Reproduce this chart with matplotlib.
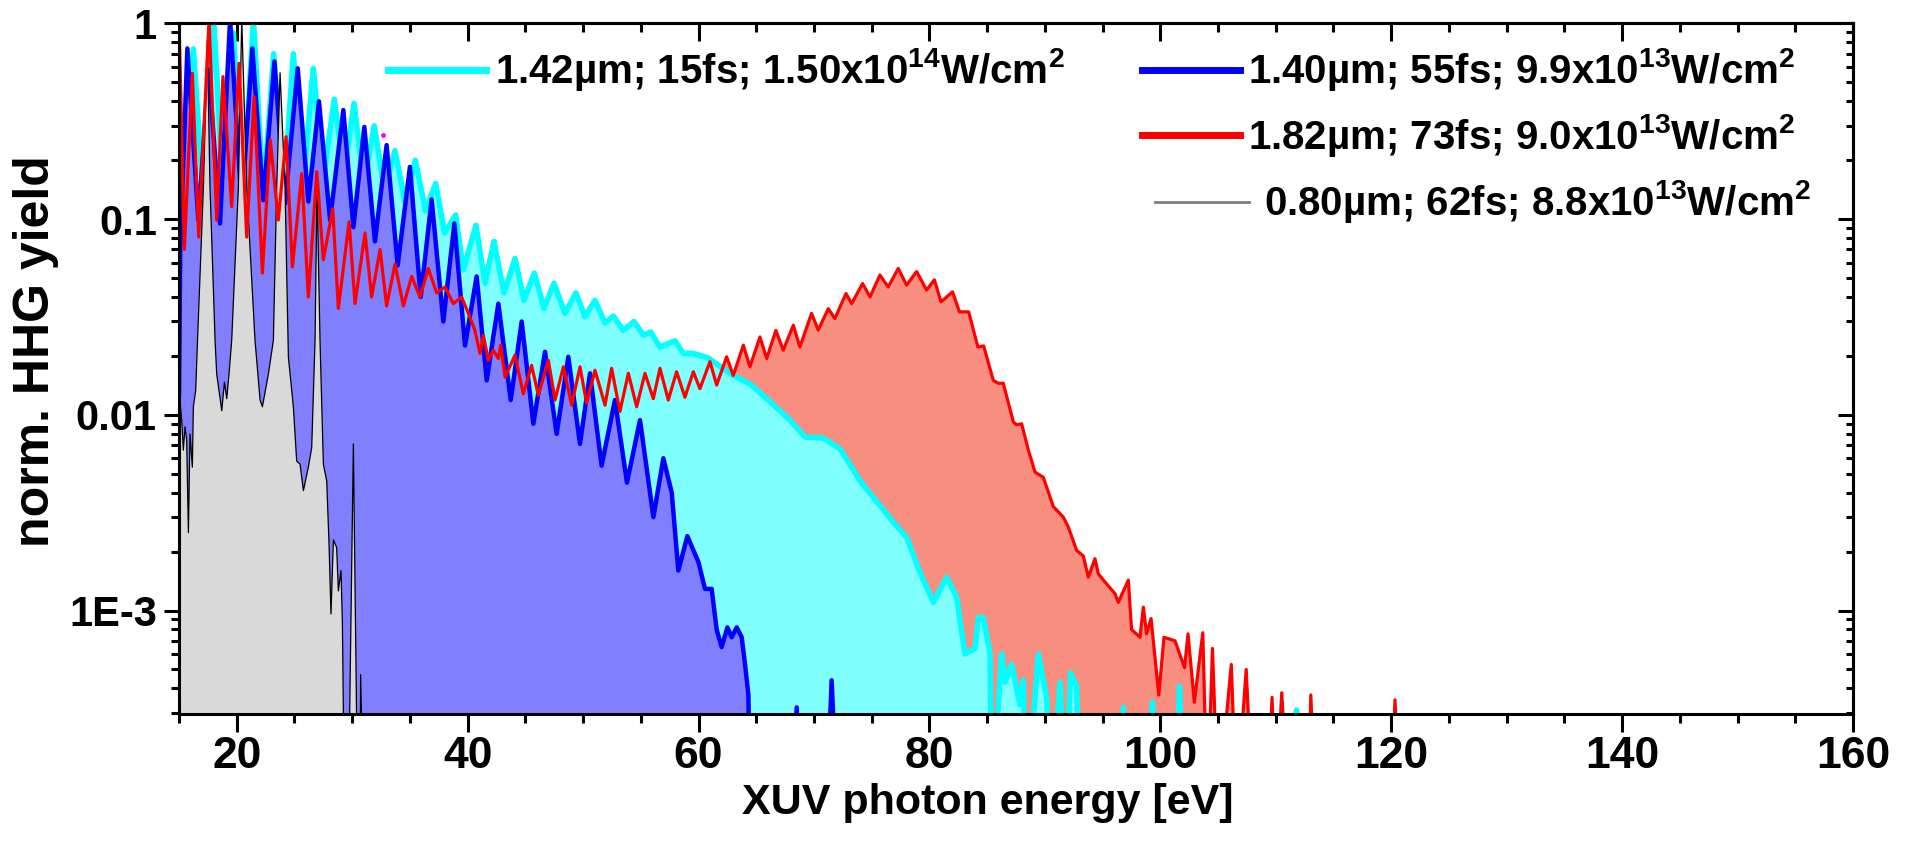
import matplotlib
matplotlib.use("Agg")
import matplotlib.pyplot as plt
from matplotlib.ticker import MultipleLocator, LogLocator, NullFormatter

plt.rcParams['font.family'] = ['Liberation Sans', 'DejaVu Sans']
plt.rcParams['font.weight'] = 'bold'
plt.rcParams['mathtext.fontset'] = 'custom'
plt.rcParams['mathtext.rm'] = 'Liberation Sans:bold'
plt.rcParams['mathtext.default'] = 'rm'

# ---- data (photon energy in eV, normalised yield) ----
# 1.42 um, 15 fs
cyan_ev = [15.0, 16.24, 17.1, 18.0, 18.85, 19.7, 20.55, 21.44, 22.3, 23.2, 24.1, 24.9, 25.75,
           26.63, 27.5, 28.45, 29.3, 30.16, 31.0, 31.91, 32.8, 33.7, 34.6, 35.47, 36.35, 37.23,
           38.0, 38.96, 39.62, 40.72, 41.5, 42.28, 43.15, 44.1, 44.88, 45.78, 46.61, 47.48, 48.43,
           49.38, 50.16, 51.03, 51.9, 52.62, 53.48, 54.41, 55.22, 55.85, 56.66, 57.96, 58.68, 59.55,
           60.85, 61.28, 63.01, 64.46, 65.9, 67.92, 69.22, 70.81, 72.26, 73.99, 75.72, 76.87, 78.03,
           79.18, 80.34, 81.49, 82.36, 83.08, 83.95, 84.24, 84.67, 85.25, 85.39, 86.26, 86.55, 87.12,
           87.84, 88.13, 88.42, 89.43, 90.15, 90.59, 91.31, 91.74, 92.23, 92.75, 93.04, 96.5, 96.8,
           97.1, 99.0, 99.31, 99.7, 101.3, 101.66, 102.0, 111.6, 111.8, 112.0, 160.0]
cyan_y = [0.135, 0.74, 0.13, 1.05, 0.13, 0.9, 0.13, 1.05, 0.13, 0.7, 0.14, 0.7, 0.15,
          0.59, 0.16, 0.41, 0.17, 0.39, 0.15, 0.30, 0.14, 0.224, 0.12, 0.20, 0.11, 0.152,
          0.085, 0.105, 0.055, 0.093, 0.047, 0.077, 0.042, 0.063, 0.0385, 0.053, 0.035, 0.047, 0.033,
          0.042, 0.0317, 0.0385, 0.0295, 0.032, 0.027, 0.030, 0.0255, 0.0265, 0.0222, 0.0239, 0.0206, 0.0206,
          0.0195, 0.0187, 0.0159, 0.0144, 0.0121, 0.0094, 0.0077, 0.0076, 0.0067, 0.0046, 0.00344, 0.00283, 0.00237,
          0.00157, 0.0011, 0.00148, 0.00117, 0.0006, 0.00064, 0.00092, 0.00092, 0.0006, 0.0001, 0.0006, 0.00043, 0.00053,
          0.00033, 0.00044, 0.0001, 0.0006, 0.00036, 0.0001, 0.00043, 0.0001, 0.00048, 0.00041, 0.0001, 0.0001, 0.00032,
          0.0001, 0.0001, 0.00034, 0.0001, 0.0001, 0.00041, 0.0001, 0.0001, 0.00031, 0.0001, 0.0001]

# 1.40 um, 55 fs
blue_ev = [15.0, 15.1, 15.72, 16.67, 17.57, 18.55, 19.42, 20.43, 21.35, 22.3, 23.26, 24.18, 25.28,
           26.2, 27.12, 28.08, 29.23, 30.1, 31.05, 31.97, 32.98, 33.94, 35.0, 35.93, 36.88, 37.89,
           38.85, 39.77, 40.78, 41.65, 42.66, 43.73, 44.68, 45.69, 46.7, 47.71, 48.72, 49.73, 50.6,
           51.6, 52.76, 53.8, 54.93, 56.09, 56.95, 57.68, 58.25, 59.03, 59.99, 60.56, 61.14, 61.57,
           62.0, 62.5, 62.87, 63.31, 63.74, 64.03, 64.32, 64.46, 68.2, 68.5, 68.8, 71.1, 71.53,
           72.0, 160.0]
blue_y = [0.013, 0.07, 0.746, 0.099, 0.58, 0.095, 1.05, 0.116, 0.746, 0.125, 0.64, 0.12, 0.59,
          0.123, 0.40, 0.099, 0.361, 0.091, 0.296, 0.077, 0.239, 0.058, 0.185, 0.040, 0.126, 0.030,
          0.095, 0.0226, 0.051, 0.015, 0.037, 0.0119, 0.030, 0.009, 0.021, 0.008, 0.0198, 0.0071, 0.0163,
          0.0055, 0.0119, 0.0045, 0.0094, 0.003, 0.006, 0.004, 0.0016, 0.0024, 0.00177, 0.00129, 0.00129, 0.0008,
          0.00065, 0.00082, 0.00073, 0.00082, 0.00073, 0.00053, 0.00037, 0.0001, 0.0001, 0.00032, 0.0001, 0.0001, 0.00044,
          0.0001, 0.0001]

# 1.82 um, 73 fs
red_ev = [15.0, 15.46, 16.15, 16.7, 17.6, 18.26, 18.8, 19.56, 20.2, 20.86, 21.5, 22.22, 22.9,
          23.6, 24.27, 24.82, 25.63, 26.2, 26.93, 27.5, 28.31, 28.8, 29.73, 30.24, 31.11, 31.68,
          32.41, 32.98, 33.71, 34.43, 35.15, 35.87, 36.59, 37.31, 38.04, 38.76, 39.48, 40.06, 40.63,
          41.07, 41.36, 41.79, 42.22, 42.66, 42.86, 43.24, 44.1, 44.82, 45.54, 46.12, 46.99, 47.57,
          48.29, 49.01, 49.73, 50.3, 51.03, 51.9, 52.47, 53.19, 53.92, 54.64, 55.36, 56.08, 56.66,
          57.38, 58.1, 58.82, 59.55, 60.12, 60.99, 61.57, 62.43, 63.01, 63.88, 64.45, 65.32, 65.9,
          66.7, 67.34, 68.21, 68.78, 69.79, 70.37, 71.24, 71.81, 72.77, 73.26, 74.21, 74.85, 75.71,
          76.43, 77.3, 78.02, 78.89, 79.75, 80.43, 81.0, 82.0, 82.6, 83.4, 84.2, 84.7, 85.53,
          85.97, 86.4, 87.27, 87.55, 87.99, 88.57, 89.14, 89.86, 90.73, 91.6, 92.03, 92.75, 93.33,
          93.76, 94.34, 94.63, 95.2, 96.07, 96.36, 97.23, 97.51, 98.24, 98.53, 98.81, 99.2, 99.87,
          100.32, 101.27, 102.1, 102.4, 102.95, 103.68, 104.07, 104.52, 105.0, 106.15, 106.6, 107.44,
          108.0, 109.3, 109.68, 110.0, 110.52, 111.08, 112.8, 113.04, 113.4, 120.0, 120.33, 120.7, 160.0]
red_y = [1.05, 0.07, 0.556, 0.081, 1.05, 0.099, 0.535, 0.116, 0.625, 0.081, 0.423, 0.053, 0.254,
         0.099, 0.264, 0.057, 0.171, 0.040, 0.175, 0.062, 0.113, 0.035, 0.097, 0.037, 0.085, 0.040,
         0.070, 0.036, 0.059, 0.036, 0.051, 0.040, 0.056, 0.042, 0.045, 0.037, 0.040, 0.033, 0.027,
         0.0206, 0.0255, 0.019, 0.0214, 0.0194, 0.0227, 0.0156, 0.0202, 0.0128, 0.0179, 0.0126, 0.019, 0.0119,
         0.0176, 0.0112, 0.0176, 0.0115, 0.0169, 0.0112, 0.0173, 0.0104, 0.0163, 0.011, 0.0163, 0.0121, 0.0173,
         0.0119, 0.0166, 0.0123, 0.0166, 0.0136, 0.0187, 0.0142, 0.0198, 0.0159, 0.0227, 0.0176, 0.025, 0.0194,
         0.027, 0.0214, 0.0287, 0.0222, 0.033, 0.0271, 0.0349, 0.031, 0.0417, 0.037, 0.0469, 0.040, 0.0518,
         0.045, 0.056, 0.046, 0.054, 0.0434, 0.049, 0.0378, 0.0425, 0.0336, 0.0336, 0.0222, 0.0225, 0.015,
         0.0145, 0.0145, 0.0092, 0.0089, 0.009, 0.0066, 0.0051, 0.0048, 0.0034, 0.003, 0.00267, 0.00203, 0.0019,
         0.00148, 0.00184, 0.00154, 0.0014, 0.00122, 0.0011, 0.00143, 0.0008, 0.00073, 0.00104, 0.00076, 0.00091, 0.00037,
         0.00073, 0.0007, 0.00051, 0.00076, 0.00034, 0.00077, 0.0001, 0.00064, 0.0001, 0.00053, 0.0001, 0.0005,
         0.0001, 0.0001, 0.00036, 0.0001, 0.00038, 0.0001, 0.0001, 0.00037, 0.0001, 0.0001, 0.00035, 0.0001, 0.0001]

# 0.80 um, 62 fs
grey_ev = [15.0, 15.23, 15.37, 15.52, 15.66, 15.81, 15.95, 16.15, 16.24, 16.44, 16.6, 17.11, 17.45,
           17.68, 18.12, 18.26, 18.7, 18.93, 19.13, 19.33, 19.56, 20.14, 20.43, 20.86, 21.58, 22.02,
           22.22, 22.74, 23.17, 23.46, 23.75, 24.18, 24.47, 24.9, 25.19, 25.48, 25.77, 26.2, 26.49,
           26.78, 26.95, 27.21, 27.5, 27.79, 27.99, 28.16, 28.37, 28.65, 28.8, 29.03, 29.15, 29.32,
           29.67, 30.1, 30.47, 30.66, 30.73, 30.96, 160.0]
grey_y = [0.0133, 0.0094, 0.0066, 0.0087, 0.0074, 0.0025, 0.008, 0.0054, 0.011, 0.0133, 0.024, 0.146, 0.82,
          0.146, 0.024, 0.0162, 0.0105, 0.0147, 0.0121, 0.0162, 0.024, 0.146, 1.05, 0.146, 0.024, 0.0119,
          0.011, 0.0162, 0.024, 0.146, 0.56, 0.146, 0.0198, 0.011, 0.0058, 0.0056, 0.0041, 0.0054, 0.0068,
          0.024, 0.146, 0.024, 0.0056, 0.0046, 0.0022, 0.00096, 0.0023, 0.0021, 0.00126, 0.0016, 0.00086, 0.0001,
          0.0001, 0.0071, 0.0001, 0.0001, 0.00047, 0.0001, 0.0001]

# stray marker in the original plot
dot_ev = [32.7]
dot_y = [0.27]

legend_labels = ['1.42µm; 15fs; 1.50x10$^{14}$W/cm$^2$',
                 '1.40µm; 55fs; 9.9x10$^{13}$W/cm$^2$',
                 '1.82µm; 73fs; 9.0x10$^{13}$W/cm$^2$',
                 '0.80µm; 62fs; 8.8x10$^{13}$W/cm$^2$']

xticks = [20, 40, 60, 80, 100, 120, 140, 160]
yticks = [1e-3, 1e-2, 1e-1, 1]
ytick_labels = ['1E-3', '0.01', '0.1', '1']

# ---- plot ----
fig = plt.figure(figsize=(19.15, 8.51), dpi=100)
ax = fig.add_axes([0.0935, 0.161, 0.8741, 0.8114])
floor = 1e-6

# fills (red at the back, grey in front), lines on top
ax.fill_between(red_ev, red_y, floor, color='#F88E80', lw=0, zorder=1)
ax.fill_between(cyan_ev, cyan_y, floor, color='#80FFFF', lw=0, zorder=2)
ax.plot(cyan_ev, cyan_y, color='#00FFFF', lw=4.0, zorder=2.5, solid_joinstyle='round')
ax.fill_between(blue_ev, blue_y, floor, color='#8080FF', lw=0, zorder=3)
ax.plot(blue_ev, blue_y, color='#0000FF', lw=3.2, zorder=3.5, solid_joinstyle='round')
ax.fill_between(grey_ev, grey_y, floor, color='#D9D9D9', lw=0, zorder=4)
ax.plot(grey_ev, grey_y, color='black', lw=0.9, zorder=4.5)
ax.plot(red_ev, red_y, color='#FF0000', lw=2.3, zorder=5, solid_joinstyle='round')
ax.plot(dot_ev, dot_y, 'o', color='magenta', ms=2.5, zorder=6)

ax.set_yscale('log')
ax.set_xlim(15, 160)
ax.set_ylim(2.96e-4, 1)
ax.set_xticks(xticks)
ax.xaxis.set_minor_locator(MultipleLocator(5))
ax.set_yticks(yticks)
ax.set_yticklabels(ytick_labels)
ax.yaxis.set_minor_locator(LogLocator(base=10, subs=range(2, 10)))
ax.yaxis.set_minor_formatter(NullFormatter())

for s in ax.spines.values():
    s.set_linewidth(2.2)
    s.set_zorder(10)
ax.tick_params(axis='x', which='major', direction='out', length=13, width=2.2, labelsize=32, pad=3)
ax.tick_params(axis='x', which='minor', direction='out', length=6.5, width=2.2)
ax.tick_params(axis='y', which='major', direction='out', length=11, width=2.2, labelsize=30, pad=5)
ax.tick_params(axis='y', which='minor', direction='out', length=6, width=2.2)

top = ax.secondary_xaxis('top')
top.set_xticks(xticks)
top.xaxis.set_minor_locator(MultipleLocator(5))
top.tick_params(which='major', direction='in', length=13, width=2.2, labeltop=False)
top.tick_params(which='minor', direction='in', length=6.5, width=2.2)
top.spines['top'].set_linewidth(2.2)

right = ax.secondary_yaxis('right')
right.set_yticks(yticks)
right.yaxis.set_minor_locator(LogLocator(base=10, subs=range(2, 10)))
right.yaxis.set_minor_formatter(NullFormatter())
right.tick_params(which='major', direction='in', length=11, width=2.2, labelright=False)
right.tick_params(which='minor', direction='in', length=5, width=2.2)
right.spines['right'].set_linewidth(2.2)

ax.set_xlabel('XUV photon energy [eV]', fontsize=31, fontweight='bold')
ax.xaxis.set_label_coords(0.483, -0.100)
ax.set_ylabel('norm. HHG yield', fontsize=36, fontweight='bold')
ax.yaxis.set_label_coords(-0.072, 0.525)

# legend, laid out as in the original (one entry left, three stacked right)
leg_colors = ['#00FFFF', '#0000FF', '#FF0000', '#808080']
leg_widths = [5, 5, 5, 2]
leg_line_x = [(0.1249, 0.1834), (0.5753, 0.6338), (0.5753, 0.6338), (0.5830, 0.6390)]
leg_text_x = [0.1888, 0.6386, 0.6386, 0.6481]
leg_y = [0.933, 0.933, 0.838, 0.742]
for lab, c, w, lx, tx, ly in zip(legend_labels, leg_colors, leg_widths, leg_line_x, leg_text_x, leg_y):
    ax.plot(lx, [ly, ly], color=c, lw=w, transform=ax.transAxes, zorder=7, clip_on=False)
    ax.text(tx, ly, lab, transform=ax.transAxes, fontsize=29, fontweight='bold',
            va='center', ha='left', zorder=7)

fig.savefig('out.png', dpi=100)
